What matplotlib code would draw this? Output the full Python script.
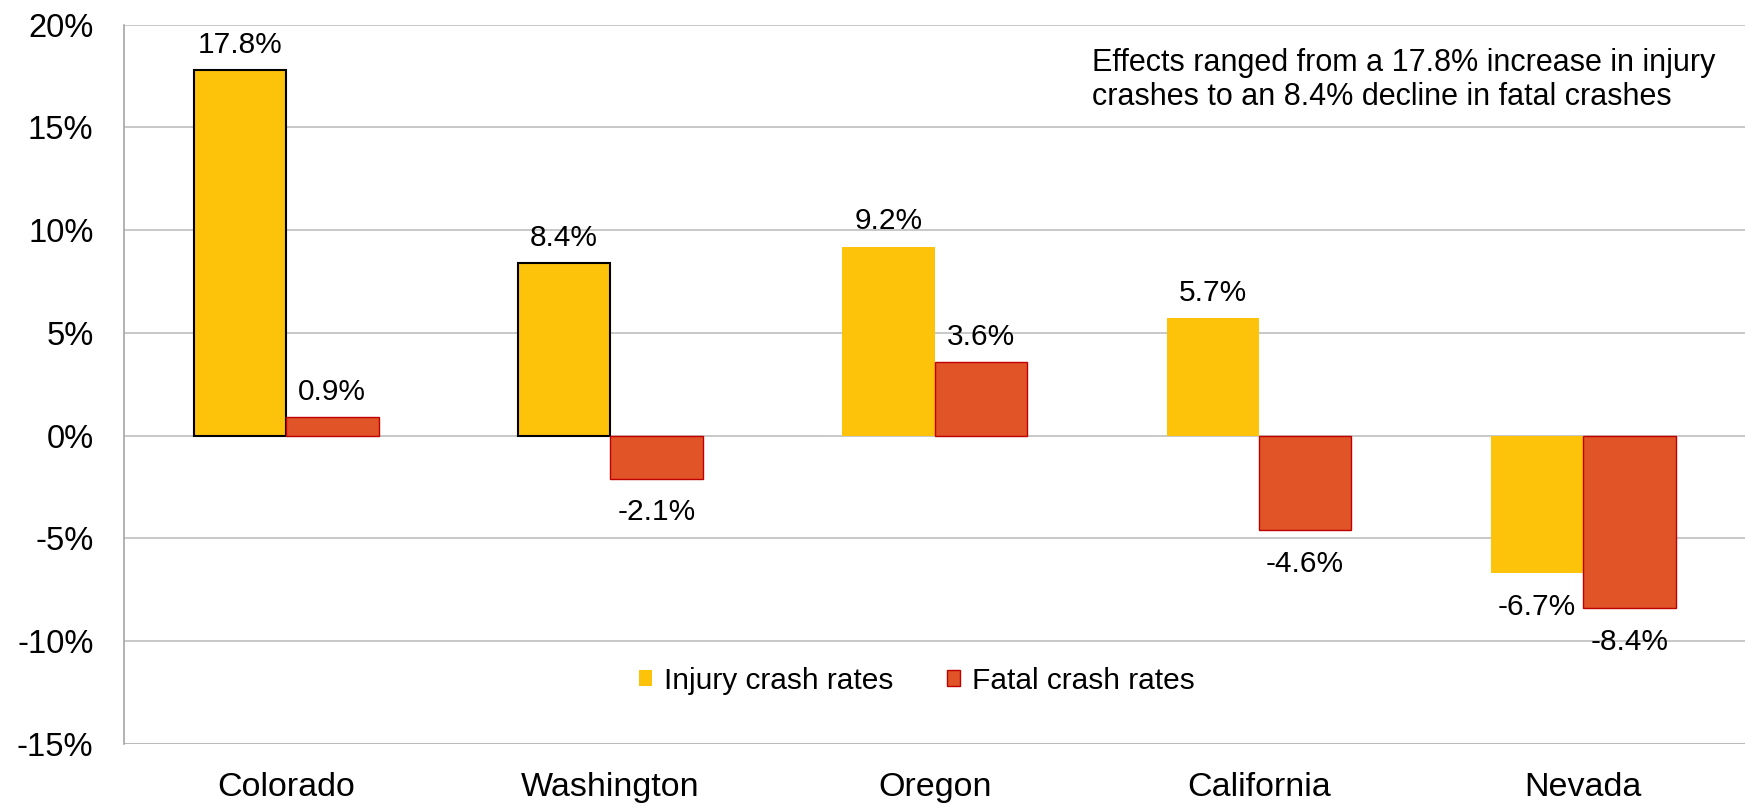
import matplotlib
matplotlib.use("Agg")
import matplotlib.pyplot as plt
import numpy as np
from matplotlib.ticker import FuncFormatter
from matplotlib.patches import Patch

plt.rcParams['font.family'] = ['Liberation Sans', 'DejaVu Sans']

states = ["Colorado", "Washington", "Oregon", "California", "Nevada"]
injury = [17.8, 8.4, 9.2, 5.7, -6.7]
fatal = [0.9, -2.1, 3.6, -4.6, -8.4]
injury_edge = ["black", "black", "none", "none", "none"]
series_names = ["Injury crash rates", "Fatal crash rates"]
yticks = [-15, -10, -5, 0, 5, 10, 15, 20]
note = "Effects ranged from a 17.8% increase in injury\ncrashes to an 8.4% decline in fatal crashes"

YELLOW = "#FDC20A"
RED = "#E05428"
RED_EDGE = "#C00000"

fig = plt.figure(figsize=(17.49, 8.06), dpi=100)
ax = fig.add_axes([0.0709, 0.0769, 0.927, 0.8927])

x = np.arange(len(states))
w = 0.285

for i, (v, ec) in enumerate(zip(injury, injury_edge)):
    ax.bar(x[i] - w / 2, v, w, color=YELLOW, edgecolor=ec,
           linewidth=1.5 if ec != "none" else 0, zorder=3)
ax.bar(x + w / 2, fatal, w, color=RED, edgecolor=RED_EDGE, linewidth=1.0,
       zorder=3)

def label(xp, v):
    if v >= 0:
        ax.annotate(f"{v:.1f}%", (xp, v), xytext=(0, 8), textcoords="offset points",
                    ha="center", va="bottom", fontsize=21.5)
    else:
        ax.annotate(f"{v:.1f}%", (xp, v), xytext=(0, -14), textcoords="offset points",
                    ha="center", va="top", fontsize=21.5)

for i in range(len(states)):
    label(x[i] - w / 2, injury[i])
    label(x[i] + w / 2, fatal[i])

ax.set_xlim(-0.5, len(states) - 0.5)
ax.set_ylim(-15, 20)
ax.set_yticks(yticks)
ax.yaxis.set_major_formatter(FuncFormatter(lambda v, p: f"{v:.0f}%"))
ax.set_xticks(x)
ax.set_xticklabels(states)
ax.tick_params(axis="y", length=0, pad=22, labelsize=23.5)
ax.tick_params(axis="x", length=0, pad=20, labelsize=24.5)
ax.grid(axis="y", color="#BFBFBF", linewidth=1.2, zorder=0)
for s in ["top", "right", "bottom"]:
    ax.spines[s].set_visible(False)
ax.spines["left"].set_color("#A6A6A6")
ax.spines["left"].set_linewidth(1.2)
ax.axhline(-15, color="#A6A6A6", linewidth=1.5, zorder=1)

ax.text(0.5972, 0.968, note, transform=ax.transAxes, ha="left", va="top",
        fontsize=22, linespacing=1.2)

handles = [Patch(facecolor=YELLOW, edgecolor="none", label=series_names[0]),
           Patch(facecolor=RED, edgecolor=RED_EDGE, linewidth=1.0, label=series_names[1])]
ax.legend(handles=handles, loc="center", bbox_to_anchor=(0.489, 0.088), ncol=2,
          frameon=False, fontsize=21.5, handlelength=0.45, handleheight=0.45,
          handletextpad=0.4, columnspacing=1.8)

fig.savefig("out.png", dpi=100)
